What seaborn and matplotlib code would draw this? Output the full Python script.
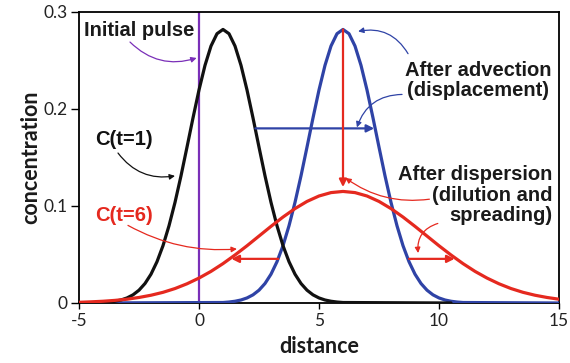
import matplotlib
matplotlib.use("Agg")
import matplotlib.pyplot as plt
import seaborn as sns
import pandas as pd

# ---- data ----
black_x = [-4.0, -3.75, -3.5, -3.25, -3.0, -2.75, -2.5, -2.25, -2.0, -1.75, -1.5, -1.25,
           -1.0, -0.75, -0.5, -0.25, 0.0, 0.25, 0.5, 0.75, 1.0, 1.25, 1.5, 1.75, 2.0, 2.25,
           2.5, 2.75, 3.0, 3.25, 3.5, 3.75, 4.0, 4.25, 4.5, 4.75, 5.0, 5.25, 5.5, 5.75, 6.0, 10.5]
black_y = [0.0005, 0.0010, 0.0018, 0.0031, 0.0052, 0.0084, 0.0132, 0.0201, 0.0297, 0.0426,
           0.0591, 0.0796, 0.1037, 0.1311, 0.1607, 0.1908, 0.2196, 0.2450, 0.2649, 0.2776, 0.2820,
           0.2776, 0.2649, 0.2450, 0.2196, 0.1908, 0.1607, 0.1311, 0.1037, 0.0796, 0.0591, 0.0426,
           0.0297, 0.0201, 0.0132, 0.0084, 0.0052, 0.0031, 0.0018, 0.0010, 0.0005, 0.0]

blue_x = [-5.0, 1.0, 1.25, 1.5, 1.75, 2.0, 2.25, 2.5, 2.75, 3.0, 3.25, 3.5, 3.75, 4.0, 4.25, 4.5,
          4.75, 5.0, 5.25, 5.5, 5.75, 6.0, 6.25, 6.5, 6.75, 7.0, 7.25, 7.5, 7.75, 8.0, 8.25, 8.5,
          8.75, 9.0, 9.25, 9.5, 9.75, 10.0, 10.25, 10.5, 10.75, 11.0, 15.0]
blue_y = [0.0, 0.0005, 0.0010, 0.0018, 0.0031, 0.0052, 0.0084, 0.0132, 0.0201, 0.0297, 0.0426,
          0.0591, 0.0796, 0.1037, 0.1311, 0.1607, 0.1908, 0.2196, 0.2450, 0.2649, 0.2776, 0.2820,
          0.2776, 0.2649, 0.2450, 0.2196, 0.1908, 0.1607, 0.1311, 0.1037, 0.0796, 0.0591, 0.0426,
          0.0297, 0.0201, 0.0132, 0.0084, 0.0052, 0.0031, 0.0018, 0.0010, 0.0005, 0.0]

red_x = [-5.0, -4.5, -4.0, -3.5, -3.0, -2.5, -2.0, -1.5, -1.0, -0.5, 0.0, 0.5, 1.0, 1.5, 2.0,
         2.5, 3.0, 3.5, 4.0, 4.5, 5.0, 5.5, 6.0, 6.5, 7.0, 7.5, 8.0, 8.5, 9.0, 9.5, 10.0, 10.5,
         11.0, 11.5, 12.0, 12.5, 13.0, 13.5, 14.0, 14.5, 15.0]
red_y = [0.0007, 0.0012, 0.0018, 0.0027, 0.0039, 0.0057, 0.0080, 0.0110, 0.0149, 0.0198, 0.0257,
         0.0326, 0.0406, 0.0495, 0.0590, 0.0690, 0.0790, 0.0886, 0.0973, 0.1047, 0.1103, 0.1138,
         0.1150, 0.1138, 0.1103, 0.1047, 0.0973, 0.0886, 0.0790, 0.0690, 0.0590, 0.0495, 0.0406,
         0.0326, 0.0257, 0.0198, 0.0149, 0.0110, 0.0080, 0.0057, 0.0039]

pulse_x = 0.0
x_ticks = [-5, 0, 5, 10, 15]
y_ticks = [0, 0.1, 0.2, 0.3]
y_tick_labels = ["0", "0.1", "0.2", "0.3"]

BLACK = "#111111"
BLUE = "#2f43a6"
RED = "#e5291f"
PURPLE = "#7a2fb8"

sns.set_style("white")
plt.rcParams["font.family"] = ["Liberation Sans", "DejaVu Sans"]

fig, ax = plt.subplots(figsize=(5.7, 3.63), dpi=100)
fig.subplots_adjust(left=0.1386, right=0.9807, top=0.967, bottom=0.1653)

ax.axvline(pulse_x, color=PURPLE, lw=1.6, zorder=2)
sns.lineplot(x=blue_x, y=blue_y, ax=ax, color=BLUE, lw=2.3, sort=False, zorder=3)
sns.lineplot(x=black_x, y=black_y, ax=ax, color=BLACK, lw=2.3, sort=False, zorder=4)
sns.lineplot(x=red_x, y=red_y, ax=ax, color=RED, lw=2.3, sort=False, zorder=5)

ax.set_xlim(-5, 15)
ax.set_ylim(0, 0.3)
ax.set_xticks(x_ticks)
ax.set_xticklabels([str(t) for t in x_ticks], family=["Lato", "DejaVu Sans"])
ax.set_yticks(y_ticks)
ax.set_yticklabels(y_tick_labels, family=["Lato", "DejaVu Sans"])
ax.tick_params(axis="both", direction="out", width=1.0, color="black",
               labelsize=12.5, labelcolor="#222222", bottom=True, left=True)
ax.tick_params(axis="y", length=6, pad=2)
ax.tick_params(axis="x", length=4.5, pad=3)
for s in ax.spines.values():
    s.set_visible(True)
    s.set_color("black")
    s.set_linewidth(1.3)
ax.set_xlabel("distance", fontsize=15.5, fontweight="bold", labelpad=5,
              family=["Lato", "DejaVu Sans"], color="#1a1a1a")
ax.set_ylabel("concentration", fontsize=15.5, fontweight="bold", labelpad=2,
              family=["Lato", "DejaVu Sans"], color="#1a1a1a")

# ---- straight arrows ----
def straight(x0, y0, x1, y1, color):
    ax.annotate("", xy=(x1, y1), xytext=(x0, y0),
                arrowprops=dict(arrowstyle="-|>", color=color, lw=1.6,
                                mutation_scale=11, shrinkA=0, shrinkB=0), zorder=6)

straight(2.35, 0.180, 7.3, 0.180, BLUE)
straight(6.0, 0.282, 6.0, 0.1195, RED)
straight(3.3, 0.0455, 1.35, 0.0455, RED)
straight(8.75, 0.0455, 10.65, 0.0455, RED)

# ---- labels with curved arrows ----
def label_arrow(x0, y0, x1, y1, color, rad):
    ax.annotate("", xy=(x1, y1), xytext=(x0, y0),
                arrowprops=dict(arrowstyle="-|>", color=color, lw=0.9,
                                mutation_scale=8, shrinkA=0, shrinkB=0,
                                connectionstyle=f"arc3,rad={rad}"), zorder=6)

tkw = dict(fontsize=14.5, fontweight="bold")
ax.text(-2.5, 0.281, "Initial pulse", color="#1a1a1a", ha="center", va="center", **tkw)
label_arrow(-2.875, 0.269, -0.1, 0.2526, PURPLE, 0.3)

ax.text(-3.125, 0.169, "C(t=1)", color=BLACK, ha="center", va="center", **tkw)
label_arrow(-3.375, 0.1546, -1.0, 0.131, BLACK, 0.3)

ax.text(-3.125, 0.0907, "C(t=6)", color=RED, ha="center", va="center", **tkw)
label_arrow(-2.96, 0.080, 1.58, 0.0557, RED, 0.15)

ax.text(11.63, 0.2294, "After advection\n(displacement)", color="#1a1a1a",
        ha="center", va="center", linespacing=1.1, **tkw)
label_arrow(8.71, 0.257, 6.63, 0.280, BLUE, 0.35)
label_arrow(8.46, 0.215, 6.58, 0.181, BLUE, 0.35)

ax.text(14.71, 0.111, "After dispersion\n(dilution and\nspreading)", color="#1a1a1a",
        ha="right", va="center", linespacing=1.1, **tkw)
label_arrow(9.6, 0.107, 6.1, 0.129, RED, -0.2)
label_arrow(9.95, 0.082, 9.13, 0.0515, RED, 0.4)

fig.savefig("out.png", dpi=100)
